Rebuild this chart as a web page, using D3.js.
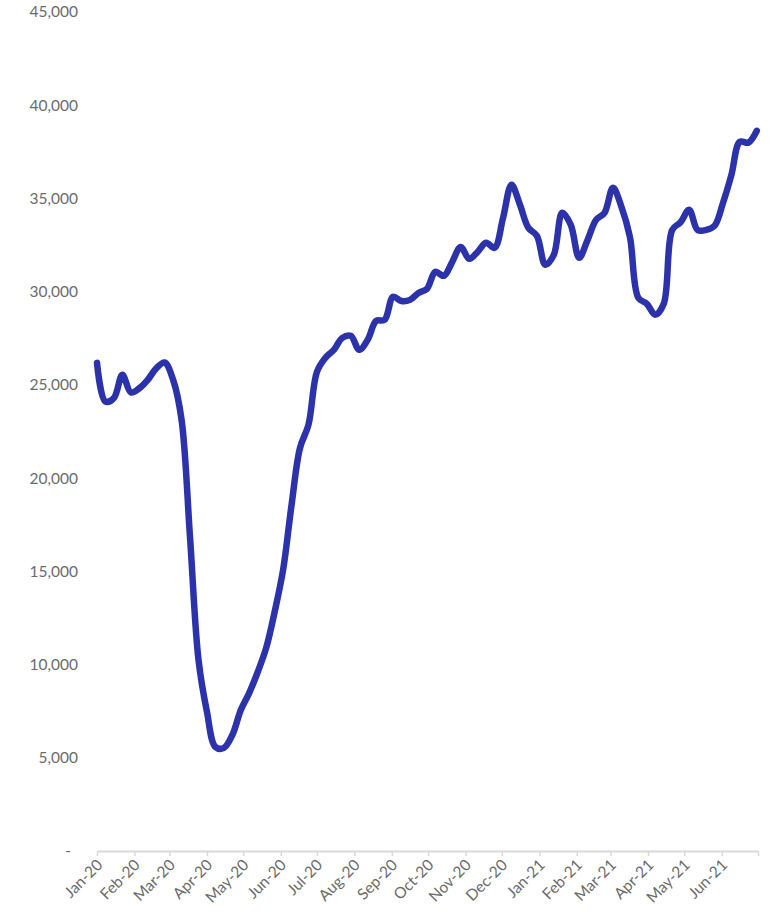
<!DOCTYPE html>
<html>
<head>
<meta charset="utf-8">
<script src="https://cdn.jsdelivr.net/npm/d3@7"></script>
<style>
  body { margin: 0; background: #fff; }
  text { font-family: Lato, "Open Sans", sans-serif; fill: #6b6b6b; }
</style>
</head>
<body>
<div id="vis"></div>
<script>
// weekly series, first week starts 1 Jan 2020
const firstWeek = "2020-01-01";
const weeklyValues = [
  26180, 24100, 24300, 25540, 24600, 24820, 25270, 25890, 26200, 25270,
  23120, 16800, 10250, 7460, 5580, 5530, 6220, 7560, 8480, 9600,
  10890, 12820, 15080, 18560, 21620, 22860, 25700, 26450, 26880, 27520,
  27630, 26880, 27420, 28430, 28490, 29720, 29500, 29560, 29930, 30150,
  31060, 30850, 31600, 32400, 31760, 32140, 32620, 32350, 33950, 35730,
  34660, 33420, 33000, 31440, 31970, 34230, 33590, 31820, 32780, 33850,
  34230, 35570, 34550, 32940, 29670, 29350, 28760, 29350, 33310, 33730,
  34390, 33310, 33310, 33530, 34760, 36270, 38040, 37990, 38630
];
const yTicks = [0, 5000, 10000, 15000, 20000, 25000, 30000, 35000, 40000, 45000];
const monthTicks = [
  "Jan-20", "Feb-20", "Mar-20", "Apr-20", "May-20", "Jun-20", "Jul-20", "Aug-20", "Sep-20",
  "Oct-20", "Nov-20", "Dec-20", "Jan-21", "Feb-21", "Mar-21", "Apr-21", "May-21", "Jun-21", ""
];

const width = 770;
const height = 912;
const margin = { top: 12, right: 12, bottom: 61, left: 97 };

const parseDate = d3.timeParse("%Y-%m-%d");
const start = parseDate(firstWeek);
const data = weeklyValues.map((v, i) => ({ date: d3.timeDay.offset(start, 7 * i), value: v }));

const monthDates = d3.timeMonth.range(new Date(2020, 0, 1), new Date(2021, 6, 2));

const x = d3.scaleTime()
  .domain([new Date(2020, 0, 1), new Date(2021, 6, 1)])
  .range([margin.left, width - margin.right]);

const y = d3.scaleLinear()
  .domain([0, 45000])
  .range([height - margin.bottom, margin.top]);

const svg = d3.select("#vis")
  .append("svg")
  .attr("width", width)
  .attr("height", height);

// y axis labels only, no line
const fmt = d3.format(",");
svg.append("g")
  .selectAll("text")
  .data(yTicks)
  .enter()
  .append("text")
  .attr("x", d => d === 0 ? 71 : 78)
  .attr("y", d => y(d))
  .attr("dy", "0.35em")
  .attr("text-anchor", "end")
  .style("font-size", "15.5px")
  .text(d => d === 0 ? "-" : fmt(d));

// x axis
const xAxis = svg.append("g")
  .attr("transform", `translate(0,${height - margin.bottom})`)
  .call(d3.axisBottom(x)
    .tickValues(monthDates)
    .tickSize(5)
    .tickSizeOuter(0)
    .tickFormat((d, i) => monthTicks[i]));

xAxis.select(".domain").attr("stroke", "#d9d9d9").attr("stroke-width", 2);
xAxis.selectAll(".tick line").attr("stroke", "#d9d9d9").attr("stroke-width", 1.5);
xAxis.selectAll(".tick text")
  .attr("y", 0)
  .attr("dy", 0)
  .attr("text-anchor", "end")
  .attr("transform", "translate(6,15) rotate(-45)")
  .style("font-size", "15.5px")
  .style("font-family", "Lato, 'Open Sans', sans-serif")
  .attr("fill", "#6b6b6b");

// the line
const line = d3.line()
  .x(d => x(d.date))
  .y(d => y(d.value))
  .curve(d3.curveCatmullRom.alpha(0.5));

svg.append("path")
  .datum(data)
  .attr("fill", "none")
  .attr("stroke", "#2b32aa")
  .attr("stroke-width", 6.5)
  .attr("stroke-linejoin", "round")
  .attr("stroke-linecap", "round")
  .attr("d", line);
</script>
</body>
</html>
